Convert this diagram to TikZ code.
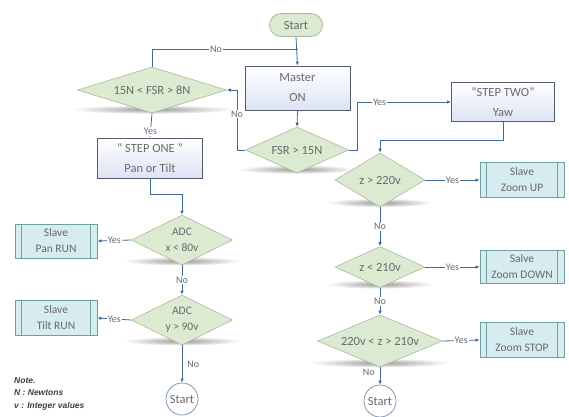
\documentclass[tikz,border=0pt]{standalone}
\usepackage{fontspec}
\setmainfont{Carlito}
\newfontfamily\notefont{Liberation Sans}
\usetikzlibrary{shapes.geometric,shapes.misc,arrows.meta,calc}
\definecolor{conn}{HTML}{3F6A98}
\definecolor{txt}{HTML}{6A6A6A}
\definecolor{dfill}{HTML}{DDEAD2}
\definecolor{ddraw}{HTML}{A9B99B}
\definecolor{sfill}{HTML}{D6ECEE}
\definecolor{sdraw}{HTML}{6E9FA3}
\definecolor{bdraw}{HTML}{545C6C}
\definecolor{bfill}{HTML}{DCE3F4}
\definecolor{cdraw}{HTML}{7E98B6}
\newcommand\dshad[4]{\shade[inner color=black!40, outer color=white] (#1,#2+0.42*#4) ellipse ({#3/2+8} and 4.5);}
\tikzset{
  x=1pt, y=-1pt,
  every node/.style={text=txt, font=\fontsize{12.5}{20}\selectfont, align=center},
  dec/.style={diamond, draw=ddraw, fill=dfill, inner sep=0pt, aspect=2.2, line width=0.6pt},
  proc/.style={rectangle, draw=bdraw, top color=white, bottom color=bfill, line width=0.8pt, inner sep=0pt},
  slave/.style={rectangle, draw=sdraw, fill=sfill, line width=0.8pt, inner sep=0pt,
     font=\fontsize{11.5}{16}\selectfont},
  term/.style={rounded rectangle, draw=ddraw, fill=dfill, line width=0.8pt, inner sep=0pt, minimum width=53pt, minimum height=23pt},
  endc/.style={circle, draw=cdraw, fill=white, line width=0.8pt, inner sep=0pt, minimum size=32pt},
  cn/.style={draw=conn, line width=0.8pt},
  ar/.style={cn, -{Latex[length=4pt,width=3.5pt]}},
  lab/.style={fill=white, inner sep=1pt, font=\fontsize{10}{12}\selectfont}
}
\begin{document}
\begin{tikzpicture}
\useasboundingbox (0,0) rectangle (569,416);
% shadows
\dshad{152}{90}{149}{46}
\dshad{297}{150}{103}{46}
\dshad{182}{240}{101}{50}
\dshad{182}{320}{101}{50}
\dshad{380}{180}{90}{54}
\dshad{380}{267}{90}{41}
\dshad{380}{341}{125}{52}
% nodes
\node[term] (start) at (296,25) {Start};
\node[proc, minimum width=105pt, minimum height=44pt] (master) at (297.5,88) {Master\\ON};
\node[dec, minimum width=103pt, minimum height=46pt] (fsr) at (297,150) {FSR > 15N};
\node[dec, minimum width=149pt, minimum height=46pt] (d1) at (152,90) {15N < FSR > 8N};
\node[proc, minimum width=105pt, minimum height=40pt] (step1) at (150,158) {" STEP ONE "\\Pan or Tilt};
\node[dec, minimum width=101pt, minimum height=50pt, font=\fontsize{11.5}{16}\selectfont] (adc1) at (182,240) {ADC\\x < 80v};
\node[dec, minimum width=101pt, minimum height=50pt, font=\fontsize{11.5}{16}\selectfont] (adc2) at (182,320) {ADC\\y > 90v};
\node[slave, minimum width=82pt, minimum height=34pt] (pan) at (56,241) {Slave\\Pan RUN};
\node[slave, minimum width=82pt, minimum height=35pt] (tilt) at (56,318) {Slave\\Tilt RUN};
\node[endc] (s1) at (182,399) {Start};
\node[proc, minimum width=103pt, minimum height=39pt] (step2) at (503,102) {"STEP TWO"\\Yaw};
\node[dec, minimum width=90pt, minimum height=54pt] (z1) at (380,180) {z > 220v};
\node[dec, minimum width=90pt, minimum height=41pt] (z2) at (380,267) {z < 210v};
\node[dec, minimum width=125pt, minimum height=52pt] (z3) at (380,341) {220v < z > 210v};
\node[slave, minimum width=84pt, minimum height=35pt] (up) at (522,180) {Slave\\Zoom UP};
\node[slave, minimum width=84pt, minimum height=33pt] (down) at (522,267) {Salve\\Zoom DOWN};
\node[slave, minimum width=84pt, minimum height=35pt] (stop) at (522,340) {Slave\\Zoom STOP};
\node[endc] (s2) at (380,401) {Start};
% inner lines of slave boxes
\foreach \n in {pan,tilt,up,down,stop}{
  \draw[draw=sdraw, line width=0.8pt] ($(\n.north west)+(7,0)$) -- ($(\n.south west)+(7,0)$);
  \draw[draw=sdraw, line width=0.8pt] ($(\n.north east)+(-7,0)$) -- ($(\n.south east)+(-7,0)$);
}
% note
\node[anchor=north west, align=left, text=black!75, font=\notefont\bfseries\itshape\fontsize{8.5}{12.5}\selectfont, inner sep=0pt] (note) at (14,377) {Note.\\N : Newtons\\v : Integer values};
% connectors
\coordinate (j1) at (297.5,49);
\draw[cn] (d1.north) |- node[lab, pos=0.72]{No} (j1);
\draw[ar] (start.south) -- (master.north);
\draw[ar] (master.south) -- (fsr.north);
\draw[ar] (fsr.west) -- (237,150) |- node[lab, pos=0.3]{No} (d1.east);
\draw[ar] (d1.south) -- node[lab, pos=0.75]{Yes} (step1.north);
\draw[ar] (step1.south) -- ++(0,16) -| (adc1.north);
\draw[ar] (adc1.west) -- node[lab]{Yes} (pan.east);
\draw[ar] (adc1.south) -- node[lab]{No} (adc2.north);
\draw[ar] (adc2.west) -- node[lab]{Yes} (tilt.east);
\draw[ar] (adc2.south) -- node[lab, right=4pt, fill=none]{No} (s1.north);
\draw[ar] (fsr.east) -- (357,150) |- node[lab, pos=0.62]{Yes} (step2.west);
\draw[ar] (step2.south) -- ++(0,18) -| (z1.north);
\draw[ar] (z1.east) -- node[lab]{Yes} (up.west);
\draw[ar] (z1.south) -- node[lab]{No} (z2.north);
\draw[ar] (z2.east) -- node[lab]{Yes} (down.west);
\draw[ar] (z2.south) -- node[lab]{No} (z3.north);
\draw[ar] (z3.east) -- node[lab]{Yes} (stop.west);
\draw[ar] (z3.south) -- node[lab, left=4pt, fill=none, pos=0.3]{No} (s2.north);
\end{tikzpicture}
\end{document}
